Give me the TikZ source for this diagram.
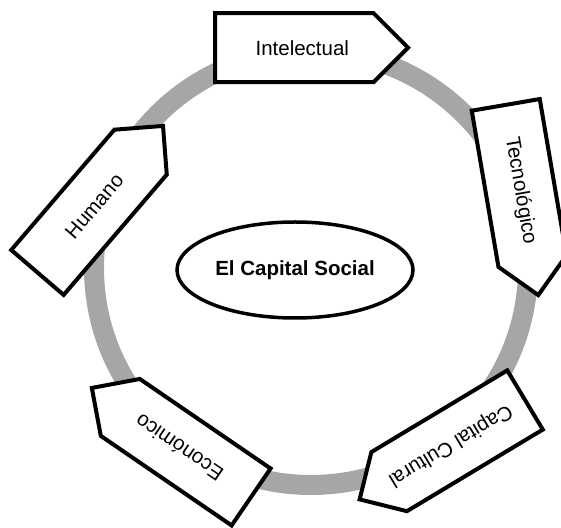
\documentclass[tikz,border=0pt]{standalone}
\usepackage{fontspec}
\setmainfont{Liberation Sans}
\usetikzlibrary{shapes.symbols,shapes.geometric}
\definecolor{ringgray}{RGB}{166,166,166}
\begin{document}
\begin{tikzpicture}[x=1pt,y=1pt,
  tagbox/.style={signal, signal to=east, signal from=nowhere,
    signal pointer angle=90, draw, line width=4pt, fill=white,
    minimum width=193pt, minimum height=69pt, inner sep=0pt,
    execute at begin node={\hspace*{16pt}},
    font=\fontsize{20.5}{24}\selectfont},
  hub/.style={ellipse, draw, line width=3.5pt, fill=white,
    minimum width=236pt, minimum height=96pt,
    font=\fontsize{20.5}{24}\selectfont\bfseries}]
\useasboundingbox (0,0) rectangle (561,527);

% ring
\coordinate (ringc) at (311,259);
\draw[ringgray, line width=20pt] (ringc) circle (217);

% centre
\node[hub] (social) at (295,257) {El Capital Social};

% tags round the ring
\node[tagbox, rotate=0] (intel) at (294.3,479.3) {Intelectual};
\node[tagbox, rotate=-80.3] (tecno) at (519.1,344) {Tecnológico};
\node[tagbox, rotate=211] (cultural) at (457.1,86.2) {Capital Cultural};
\node[tagbox, rotate=145.6] (econ) at (185.7,74.8) {Económico};
\node[tagbox, rotate=49.4] (humano) at (89,314.7) {Humano};
\end{tikzpicture}
\end{document}
